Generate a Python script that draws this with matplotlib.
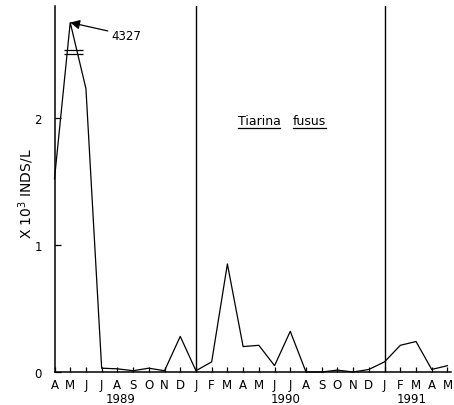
import matplotlib
matplotlib.use("Agg")
import matplotlib.pyplot as plt

# Data: Tiarina fusus abundance (x10^3 inds/L), monthly Apr 1989 - May 1991
months = ["A", "M", "J", "J", "A", "S", "O", "N", "D",
          "J", "F", "M", "A", "M", "J", "J", "A", "S", "O", "N", "D",
          "J", "F", "M", "A", "M"]
values = [1.52, 2.75, 2.23, 0.03, 0.025, 0.01, 0.03, 0.01, 0.28,
          0.01, 0.08, 0.85, 0.20, 0.21, 0.05, 0.32, 0.0, 0.0, 0.015, 0.0, 0.02,
          0.08, 0.21, 0.24, 0.02, 0.05]
years = ["1989", "1990", "1991"]
year_pos = [4.2, 14.7, 22.7]
year_starts = [9, 21]
peak_label = "4327"
y_ticks = [0, 1, 2]

plt.rcParams['font.family'] = ['DejaVu Sans']
W, H = 454, 406
fig = plt.figure(figsize=(W / 100, H / 100), dpi=100)
left_px, right_px, bottom_px, top_px = 54.5, 450.6, 373, 7
ax = fig.add_axes([left_px / W, 1 - bottom_px / H,
                   (right_px - left_px) / W, (bottom_px - top_px) / H])

x = list(range(len(values)))
ax.plot(x, values, color='black', lw=0.9, clip_on=False)
ax.set_xlim(0, 25.2)
ax.set_ylim(0, 2.88)

for xs in year_starts:
    ax.axvline(xs, color='black', lw=1.0)

for s in ['top', 'right']:
    ax.spines[s].set_visible(False)
for s in ['left', 'bottom']:
    ax.spines[s].set_linewidth(1.1)

ax.set_xticks(x)
ax.set_xticklabels(months, fontsize=8.5)
ax.set_yticks(y_ticks)
ax.set_yticklabels([str(t) for t in y_ticks], fontsize=8.5)
ax.tick_params(axis='x', direction='in', length=3.5, width=0.9, pad=4)
ax.tick_params(axis='y', direction='in', length=4, width=0.9, pad=9)

for yr, xp in zip(years, year_pos):
    ax.text(xp, -0.16, yr, ha='center', va='top', fontsize=8.5)

# axis break marks on the peak
ax.hlines([2.535, 2.505], 0.6, 1.8, color='black', lw=0.9)

ax.annotate(peak_label, xy=(1.0, 2.75), xytext=(3.65, 2.65),
            fontsize=8.5, ha='left', va='center',
            arrowprops=dict(arrowstyle='-|>', color='black', lw=0.9,
                            mutation_scale=14, shrinkA=1, shrinkB=0))

fig.text(26 / W, 1 - 194 / H, r"X 10$^3$ INDS/L", rotation=90,
         ha='center', va='center', fontsize=10)

# title words with underline
t1 = ax.text(11.65, 1.95, "Tiarina", fontsize=9, ha='left', va='baseline')
t2 = ax.text(15.17, 1.95, "fusus", fontsize=9, ha='left', va='baseline')
fig.canvas.draw()
r = fig.canvas.get_renderer()
for t in (t1, t2):
    bb = t.get_window_extent(r)
    y_line = bb.y0 - 1
    fig.add_artist(plt.Line2D([bb.x0 / W, bb.x1 / W], [y_line / H, y_line / H],
                              color='black', lw=0.9))

fig.savefig("out.png", dpi=100)
